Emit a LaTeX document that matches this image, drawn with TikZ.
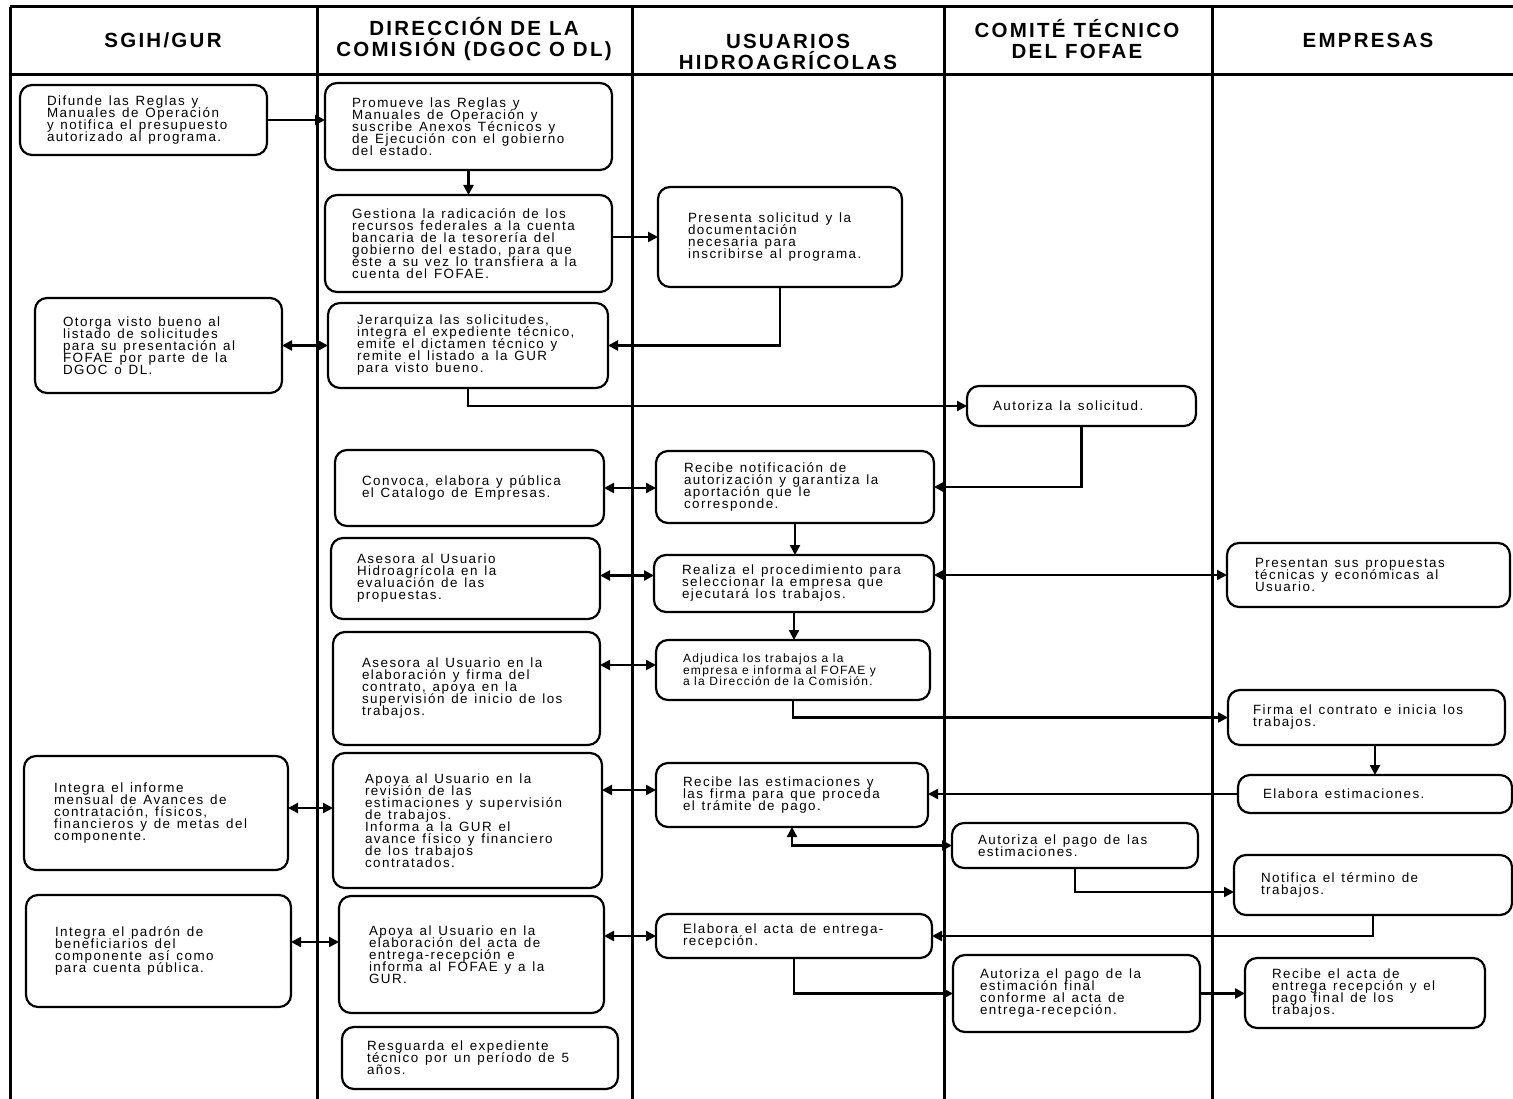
\documentclass[tikz,border=0pt]{standalone}
\usepackage{fontspec}
\setmainfont{Liberation Sans}
\newfontfamily\boxfont{Liberation Sans}[LetterSpace=11]
\newfontfamily\hdrfont{Liberation Sans}[LetterSpace=11]
\usetikzlibrary{arrows.meta}
\def\mbsp{6.8pt}
\newcommand\mybox[8][]{%
  \pgfmathsetmacro\mbW{#5-#3}%
  \pgfmathsetmacro\mbH{#6-#4}%
  \pgfmathsetmacro\mbX{(#3+#5)/2}%
  \pgfmathsetmacro\mbY{(#4+#6)/2}%
  \pgfmathsetmacro\mbO{#7-#3}%
  \node[box,#1,minimum height=\mbH pt,text width=\mbW pt] (#2) at (\mbX,\mbY) {\leftskip=\mbO pt\relax\spaceskip=\mbsp plus 1pt minus 1pt\relax #8\par};}
\begin{document}
\begin{tikzpicture}[x=1pt,y=-1pt,
  box/.style={draw, line width=2.2pt, rounded corners=12pt, inner xsep=0pt, inner ysep=1pt, outer sep=0pt, align=left,
    font={\boxfont\fontsize{13.4}{12}\selectfont\lineskiplimit=-20pt}},
  hdr/.style={font={\hdrfont\bfseries\fontsize{20.5}{21.5}\selectfont}, align=center, inner sep=0pt},
  lane/.style={line width=3pt},
  arr/.style={line width=2.4pt, -{Triangle[length=10pt,width=10pt]}},
  darr/.style={line width=2.4pt, {Triangle[length=10pt,width=10pt]}-{Triangle[length=10pt,width=10pt]}}]
\useasboundingbox (0,0) rectangle (1513,1099);
\clip (0,0) rectangle (1513,1099);
\fill[white] (0,0) rectangle (1513,1099);
% lanes
\draw[lane] (10,7) -- (1513,7);
\draw[lane] (10,75) -- (1513,75);
\foreach \lx in {10,317,632,944,1212} \draw[lane] (\lx,7) -- (\lx,1099);
% headers
\node[hdr] (hA) at (163,40) {SGIH/GUR};
\node[hdr] (hB) at (474,39) {DIRECCIÓN DE LA\\COMISIÓN (DGOC O DL)};
\node[hdr] (hC) at (788,52) {USUARIOS\\HIDROAGRÍCOLAS};
\node[hdr] (hD) at (1077,39) {COMITÉ TÉCNICO\\DEL FOFAE};
\node[hdr] (hE) at (1368,40) {EMPRESAS};
% boxes
\mybox{difunde}{20}{85}{267}{155}{47}{Difunde las Reglas y\\Manuales de Operación\\y notifica el presupuesto\\autorizado al programa.}
\mybox{promueve}{325}{83}{612}{170}{352}{Promueve las Reglas y\\Manuales de Operación y\\suscribe Anexos Técnicos y\\de Ejecución con el gobierno\\del estado.}
\mybox{gestiona}{325}{195}{612}{292}{352}{Gestiona la radicación de los\\recursos federales a la cuenta\\bancaria de la tesorería del\\gobierno del estado, para que\\éste a su vez lo transfiera a la\\cuenta del FOFAE.}
\mybox{presenta}{658}{187}{902}{287}{688}{Presenta solicitud y la\\documentación\\necesaria para\\inscribirse al programa.}
\mybox{otorga}{35}{298}{282}{393}{63}{Otorga visto bueno al\\listado de solicitudes\\para su presentación al\\FOFAE por parte de la\\DGOC o DL.}
\mybox{jerarquiza}{328}{303}{608}{388}{357}{Jerarquiza las solicitudes,\\integra el expediente técnico,\\emite el dictamen técnico y\\remite el listado a la GUR\\para visto bueno.}
\mybox{autsol}{967}{386}{1196}{426}{993}{Autoriza la solicitud.}
\mybox{convoca}{335}{450}{604}{526}{362}{Convoca, elabora y pública\\el Catalogo de Empresas.}
\mybox{recnot}{656}{451}{934}{523}{684}{Recibe notificación de\\autorización y garantiza la\\aportación que le\\corresponde.}
\mybox{asesoraA}{331}{538}{600}{619}{357}{Asesora al Usuario\\Hidroagrícola en la\\evaluación de las\\propuestas.}
\mybox{realiza}{654}{555}{934}{612}{682}{Realiza el procedimiento para\\seleccionar la empresa que\\ejecutará los trabajos.}
\mybox{presentan}{1227}{543}{1510}{607}{1255}{Presentan sus propuestas\\técnicas y económicas al\\Usuario.}
\mybox{asesoraB}{333}{632}{600}{745}{362}{Asesora al Usuario en la\\elaboración y firma del\\contrato, apoya en la\\supervisión de inicio de los\\trabajos.}
\def\mbsp{4.5pt}
\mybox[font={\boxfont\fontsize{12}{11.5}\selectfont\lineskiplimit=-20pt}]{adjudica}{656}{640}{930}{700}{683}{Adjudica los trabajos a la\\empresa e informa al FOFAE y\\a la Dirección de la Comisión.}
\def\mbsp{6.8pt}
\mybox{firma}{1228}{690}{1505}{745}{1253}{Firma el contrato e inicia los\\trabajos.}
\mybox{integra}{24}{756}{288}{870}{54}{Integra el informe\\mensual de Avances de\\contratación, físicos,\\financieros y de metas del\\componente.}
\mybox{apoyaA}{333}{753}{602}{888}{365}{Apoya al Usuario en la\\revisión de las\\estimaciones y supervisión\\de trabajos.\\Informa a la GUR el\\avance físico y financiero\\de los trabajos\\contratados.}
\mybox{recest}{656}{763}{928}{827}{683}{Recibe las estimaciones y\\las firma para que proceda\\el trámite de pago.}
\mybox{elabest}{1238}{775}{1512}{813}{1263}{Elabora estimaciones.}
\mybox{autpago}{952}{823}{1198}{868}{978}{Autoriza el pago de las\\estimaciones.}
\mybox{notif}{1234}{855}{1512}{915}{1261}{Notifica el término de\\trabajos.}
\mybox{padron}{26}{895}{291}{1007}{55}{Integra el padrón de\\beneficiarios del\\componente así como\\para cuenta pública.}
\mybox{apoyaB}{339}{896}{604}{1013}{369}{Apoya al Usuario en la\\elaboración del acta de\\entrega-recepción e\\informa al FOFAE y a la\\GUR.}
\mybox{elacta}{656}{914}{932}{958}{683}{Elabora el acta de entrega-\\recepción.}
\mybox{autfin}{953}{955}{1200}{1032}{980}{Autoriza el pago de la\\estimación final\\conforme al acta de\\entrega-recepción.}
\mybox{recacta}{1245}{958}{1485}{1028}{1272}{Recibe el acta de\\entrega recepción y el\\pago final de los\\trabajos.}
\mybox{resguarda}{342}{1027}{618}{1089}{367}{Resguarda el expediente\\técnico por un período de 5\\años.}
% connectors
\draw[arr] (difunde.east) -- (difunde.east -| promueve.west);
\draw[arr] (promueve.south) -- (promueve.south |- gestiona.north);
\draw[arr] (presenta.west -| gestiona.east) -- (presenta.west);
\draw[arr] (presenta.south) |- (jerarquiza.east);
\draw[darr] (otorga.east) -- (otorga.east -| jerarquiza.west);
\draw[arr] (jerarquiza.south) |- (autsol.west);
\draw[arr] (autsol.south) |- (recnot.east);
\draw[darr] (convoca.east) -- (convoca.east -| recnot.west);
\draw[arr] (recnot.south) -- (recnot.south |- realiza.north);
\draw[darr] ([yshift=3pt]asesoraA.east) -- ([yshift=3pt]asesoraA.east -| realiza.west);
\draw[darr] (presentan.west -| realiza.east) -- (presentan.west);
\draw[arr] (realiza.south) -- (realiza.south |- adjudica.north);
\draw[darr] ([yshift=5pt]adjudica.west -| asesoraB.east) -- ([yshift=5pt]adjudica.west);
\draw[arr] (adjudica.south) |- (firma.west);
\draw[arr] (elabest.north |- firma.south) -- (elabest.north);
\draw[arr] (elabest.west) -- (elabest.west -| recest.east);
\draw[darr] ([yshift=5pt]integra.east) -- ([yshift=5pt]integra.east -| apoyaA.west);
\draw[darr] ([yshift=5pt]recest.west -| apoyaA.east) -- ([yshift=5pt]recest.west);
\draw[darr] (recest.south) |- (autpago.west);
\draw[arr] (autpago.south) |- ([yshift=-7pt]notif.west);
\draw[arr] (notif.south) |- (elacta.east);
\draw[darr] ([yshift=9pt]padron.east) -- ([yshift=9pt]padron.east -| apoyaB.west);
\draw[darr] (elacta.west -| apoyaB.east) -- (elacta.west);
\draw[arr] (elacta.south) |- (autfin.west);
\draw[arr] (autfin.east) -- (autfin.east -| recacta.west);
\end{tikzpicture}
\end{document}
